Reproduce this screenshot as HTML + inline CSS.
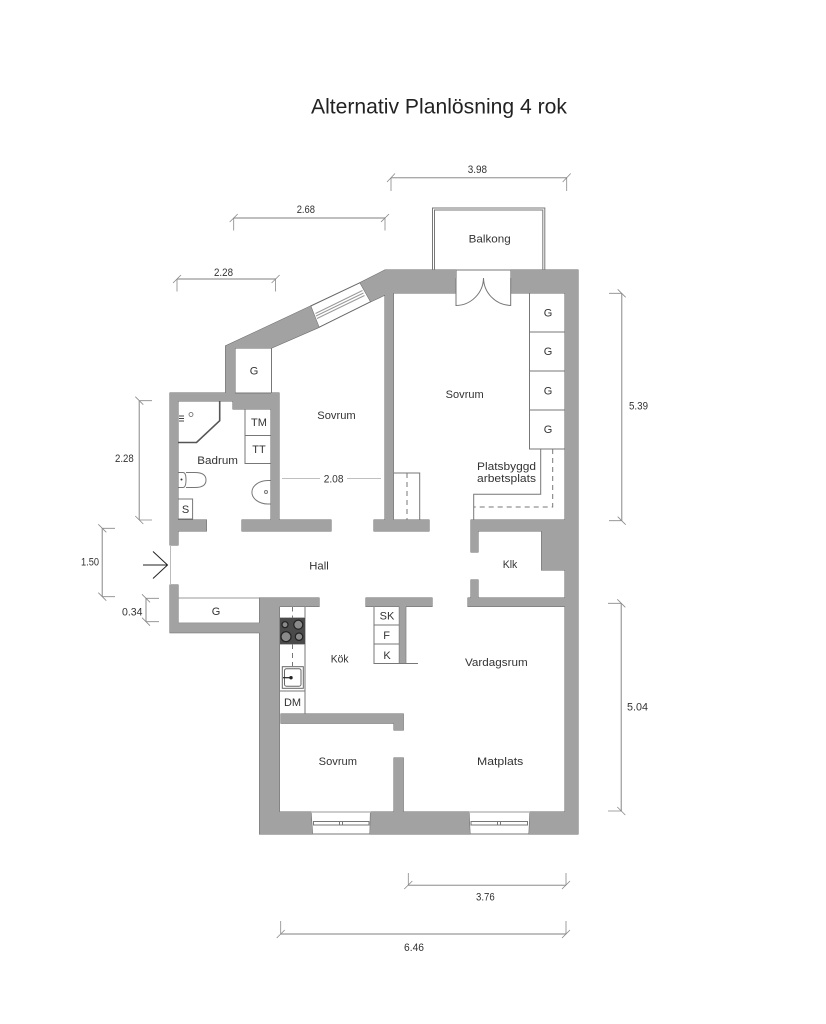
<!DOCTYPE html>
<html><head><meta charset="utf-8"><style>
html,body{margin:0;padding:0;background:#fff}
svg{display:block}
text{font-family:"Liberation Sans",sans-serif;font-size:11px;fill:#333}
.l{fill:none;stroke:#777;stroke-width:1}
.d{fill:none;stroke:#aaa;stroke-width:1.4}
.t{fill:none;stroke:#888;stroke-width:.8}
.da{fill:none;stroke:#777;stroke-width:1;stroke-dasharray:5 4}
</style></head><body>
<svg width="826" height="1024" viewBox="0 0 826 1024" xmlns="http://www.w3.org/2000/svg">
<defs>
<g id="w">
<polygon points="225.5,393 225.5,346 310.7,306 319,327.3 271.5,348 235,348 235,393"/>
<polygon points="360,282.7 385,270 456,270 456,293 393.5,293 393.5,520 385,520 385,295 370.7,301.7"/>
<polygon points="511,270 578,270 578,834 529,834 530,812 565,812 565,606 565,598 565,570 541.5,570 541.5,531 471,531 471,520 565,520 565,293 511,293"/>
<polygon points="170,393 279,393 279,520 271,520 271,409 233,409 233,401 178,401 178,545 170,545"/>
<rect x="178" y="520" width="28.5" height="11"/>
<rect x="242" y="520" width="89" height="11"/>
<rect x="374" y="520" width="55" height="11"/>
<rect x="471" y="531" width="7" height="21"/>
<rect x="471" y="580" width="7" height="18"/>
<rect x="468" y="598" width="97" height="8.5"/>
<polygon points="170,585 178,585 178,623 259.5,623 259.5,598 319,598 319,606.5 279.5,606.5 279.5,812 311,812 312.5,834 259.5,834 259.5,632.7 170,632.7"/>
<rect x="366" y="598" width="66" height="8.5"/>
<rect x="399.3" y="606" width="6.5" height="57"/>
<polygon points="281,714 403.3,714 403.3,730 394,730 394,723.3 281,723.3"/>
<rect x="394" y="758" width="9.3" height="54"/>
<polygon points="370.5,812 469,812 470,834 370,834"/>
</g>
</defs>
<rect width="826" height="1024" fill="#fff"/>

<text x="311" y="113.5" textLength="256" lengthAdjust="spacingAndGlyphs" style="font-size:21px;fill:#222">Alternativ Planlösning 4 rok</text>

<use href="#w" fill="#666" stroke="#666" stroke-width="1"/>
<use href="#w" fill="#a2a2a2"/>

<!-- balcony -->
<path class="l" d="M432.5,270V208H544.8V270M434.5,270V210H542.8V270"/>
<!-- door -->
<path class="l" d="M456,270H511M456,278V305.5A28,28 0 0 0 483.5,278A28,28 0 0 0 510.7,305.5V278"/>

<!-- slant window -->
<g stroke="#666" fill="none" stroke-width="1">
<path d="M310.7,306L360,282.7M319,327.3L370.7,301.7"/>
<path stroke="#999" d="M315.5,313.5L362.5,290.5M316,316L363.5,293M317,318.5L364.5,295.5"/>
</g>

<!-- bottom windows -->
<g fill="none" stroke="#777" stroke-width="1">
<path stroke="#bbb" stroke-width="1.5" d="M311,812H371M469,812H530"/>
<path d="M312.5,834H369.5M470,834H528.5"/>
<rect x="313.5" y="821.5" width="55.5" height="3.5"/>
<rect x="339.5" y="821.5" width="3" height="3.5"/>
<rect x="471" y="821.5" width="56.5" height="3.5"/>
<rect x="497.5" y="821.5" width="3" height="3.5"/>
</g>

<!-- closets / storage -->
<g class="l">
<path d="M271.5,348V393M235,393H271"/>
<path d="M245,409V463.5H271M245,435.5H271"/>
<path d="M529.5,293V449H565M529.5,332H565M529.5,371H565M529.5,410H565"/>
<path d="M540.7,449V494.3H473.7V520"/>
<path d="M394,473H419.7V520"/>
<path d="M178,598H259M178,623H259" stroke="#999"/>
<path d="M305,606.5V714M280,618H305M280,644H305M280,691H305"/>
<path d="M374,606.5V663.5H418M374,625H399M374,644H399"/>
<path d="M178,499H192.6V519H178"/>
<path d="M170.5,545V585" stroke="#bbb"/>
</g>
<path class="da" d="M552.7,449V507H474"/>
<path class="da" d="M407,473V520"/>
<path class="da" d="M292.5,606.5V618M292.5,644V666"/>

<!-- bathroom fixtures -->
<path d="M219.7,401V420.7L196.5,442.5H178" fill="none" stroke="#555" stroke-width="1.6"/>
<circle cx="191" cy="414.5" r="2" fill="none" stroke="#666" stroke-width=".8"/>
<path d="M179,416h5M179,418.5h5M179,421h5" stroke="#444" stroke-width="1"/>
<g class="l">
<path d="M178,472.5H183Q186,472.5 186,479.5Q186,487.5 183,487.5H178"/>
<path d="M186,472.5H195Q206,472.5 206,480Q206,487.5 195,487.5H186"/>
<path d="M271,480.5H268A16,11.7 0 0 0 268,504H271"/>
</g>
<circle cx="181.5" cy="479.5" r="1" fill="#333"/>
<circle cx="266" cy="492" r="1.5" fill="none" stroke="#777"/>

<!-- hob -->
<rect x="280" y="618" width="25" height="26" fill="#4a4a4a"/>
<g stroke="#222" stroke-width="1.2" fill="#8a8a8a">
<circle cx="285" cy="624.7" r="3"/>
<circle cx="298.3" cy="624.7" r="4.5"/>
<circle cx="286" cy="636.7" r="5"/>
<circle cx="299" cy="636.7" r="3.7"/>
</g>
<!-- sink -->
<rect x="282.3" y="666.7" width="21" height="21.6" fill="none" stroke="#666"/>
<rect x="284.5" y="668.7" width="16.5" height="17.5" rx="2" fill="none" stroke="#666"/>
<path d="M283,677.7H291" stroke="#222" stroke-width="1.2"/>
<circle cx="291" cy="677.7" r="1.7" fill="#222"/>

<!-- entry arrow -->
<path d="M143,565H167.5M153,551.5L167.5,565L153,578.5" fill="none" stroke="#222" stroke-width="1"/>

<!-- 2.08 inner dimension -->
<path d="M282,478.5H320M347,478.5H381" stroke="#aaa" stroke-width=".8"/>

<!-- dimensions -->
<path class="d" d="M391,177.7H566.7M233.7,218H385M177,279H275.6M408.3,885.3H566M280.7,934H566M621.7,293.3V520.7M621.3,603.3V811M139.3,400.7V520M102.3,528.3V596.7M146,598.3V621.7"/>
<g class="t">
<path d="M391,177.7V191M566.7,177.7V191M387,182L395,173.5M562.7,182L570.7,173.5"/>
<path d="M233.7,218V230.5M385,218V230.5M229.7,222L237.7,214M381,222L389,214"/>
<path d="M177,279V291.5M275.6,279V291.5M173,283L181,275M271.6,283L279.6,275"/>
<path d="M408.3,885.3V873M566,885.3V873M404.3,889L412.3,881M562,889L570,881"/>
<path d="M280.7,934V921M566,934V921M276.7,938L284.7,930M562,938L570,930"/>
<path d="M621.7,293.3H609M621.7,520.7H609M617.7,289.3L625.7,297.3M617.7,516.7L625.7,524.7"/>
<path d="M621.3,603.3H608M621.3,811H608M617.3,599.3L625.3,607.3M617.3,807L625.3,815"/>
<path d="M139.3,400.7H152M139.3,520H152M135.3,396.7L143.3,404.7M135.3,516L143.3,524"/>
<path d="M102.3,528.3H115M102.3,596.7H115M98.3,524.3L106.3,532.3M98.3,592.7L106.3,600.7"/>
<path d="M146,598.3H159M146,621.7H159M142,594.3L150,602.3M142,617.7L150,625.7"/>
</g>

<!-- labels -->
<text x="468.7" y="242.5" textLength="42" lengthAdjust="spacingAndGlyphs">Balkong</text>
<text x="445.7" y="398" textLength="38" lengthAdjust="spacingAndGlyphs">Sovrum</text>
<text x="317.3" y="419" textLength="38.4" lengthAdjust="spacingAndGlyphs">Sovrum</text>
<text x="548" y="316.7" text-anchor="middle">G</text>
<text x="548" y="355" text-anchor="middle">G</text>
<text x="548" y="394.7" text-anchor="middle">G</text>
<text x="548" y="433" text-anchor="middle">G</text>
<text x="254" y="374.7" text-anchor="middle">G</text>
<text x="259" y="426" text-anchor="middle">TM</text>
<text x="259" y="453" text-anchor="middle">TT</text>
<text x="197.3" y="464" textLength="40.7" lengthAdjust="spacingAndGlyphs">Badrum</text>
<text x="185.5" y="513" text-anchor="middle">S</text>
<text x="323.7" y="482.3" textLength="19.8" lengthAdjust="spacingAndGlyphs">2.08</text>
<text x="477" y="470" textLength="59" lengthAdjust="spacingAndGlyphs">Platsbyggd</text>
<text x="477" y="482" textLength="59" lengthAdjust="spacingAndGlyphs">arbetsplats</text>
<text x="309.3" y="569.7" textLength="19.4" lengthAdjust="spacingAndGlyphs">Hall</text>
<text x="216" y="615" text-anchor="middle">G</text>
<text x="330.7" y="662.7" textLength="17.8" lengthAdjust="spacingAndGlyphs">Kök</text>
<text x="387" y="619.6" text-anchor="middle">SK</text>
<text x="386.6" y="639" text-anchor="middle">F</text>
<text x="387" y="659" text-anchor="middle">K</text>
<text x="292.5" y="706" text-anchor="middle">DM</text>
<text x="318.7" y="765" textLength="38.3" lengthAdjust="spacingAndGlyphs">Sovrum</text>
<text x="502.7" y="568" textLength="14.6" lengthAdjust="spacingAndGlyphs">Klk</text>
<text x="465" y="666" textLength="62.7" lengthAdjust="spacingAndGlyphs">Vardagsrum</text>
<text x="477" y="765" textLength="46.3" lengthAdjust="spacingAndGlyphs">Matplats</text>
<text x="467.7" y="173" textLength="19.3" lengthAdjust="spacingAndGlyphs">3.98</text>
<text x="296.7" y="213" textLength="18.3" lengthAdjust="spacingAndGlyphs">2.68</text>
<text x="214" y="276" textLength="19" lengthAdjust="spacingAndGlyphs">2.28</text>
<text x="115" y="462" textLength="18.7" lengthAdjust="spacingAndGlyphs">2.28</text>
<text x="81" y="565.7" textLength="18" lengthAdjust="spacingAndGlyphs">1.50</text>
<text x="122" y="615.3" textLength="20.5" lengthAdjust="spacingAndGlyphs">0.34</text>
<text x="629" y="409.3" textLength="19" lengthAdjust="spacingAndGlyphs">5.39</text>
<text x="627" y="710.3" textLength="21" lengthAdjust="spacingAndGlyphs">5.04</text>
<text x="476" y="900.7" textLength="18.7" lengthAdjust="spacingAndGlyphs">3.76</text>
<text x="404" y="951" textLength="20" lengthAdjust="spacingAndGlyphs">6.46</text>
</svg>
</body></html>
